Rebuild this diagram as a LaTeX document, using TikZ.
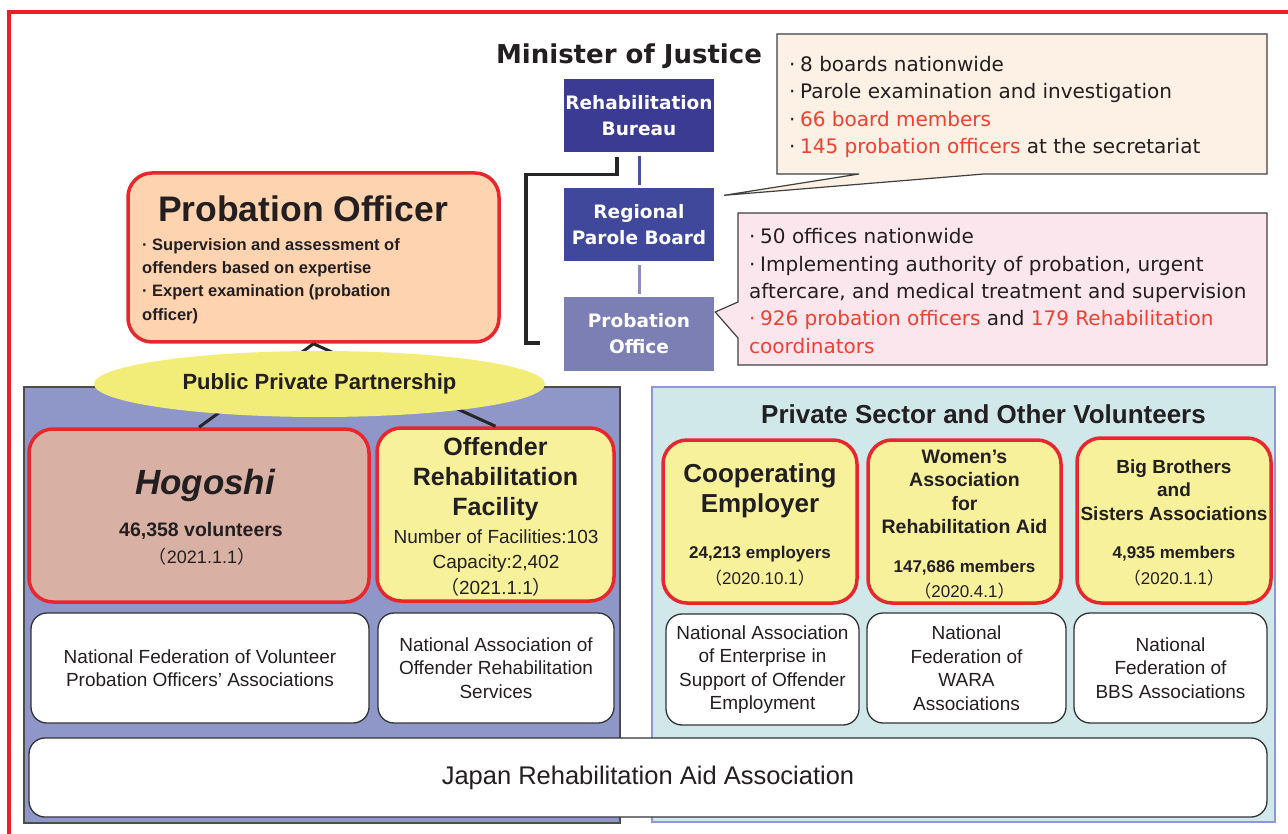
\documentclass[tikz,border=0pt]{standalone}
\usepackage{fontspec}
\setmainfont{Liberation Sans}
\newfontfamily\verdfont{DejaVu Sans}
\newfontfamily\cjkfont{Noto Sans CJK JP}
\usetikzlibrary{calc,shapes.geometric}

\definecolor{framered}{HTML}{EE1C25}
\definecolor{boxred}{HTML}{E8262D}
\definecolor{notered}{HTML}{F0402F}
\definecolor{inktext}{HTML}{231F20}
\definecolor{bureaublue}{HTML}{3B3B93}
\definecolor{boardblue}{HTML}{3F489B}
\definecolor{officeblue}{HTML}{7B7FB3}
\definecolor{linkdark}{HTML}{4B50A5}
\definecolor{linklight}{HTML}{8A8EC3}
\definecolor{boardnote}{HTML}{FDF0E4}
\definecolor{officenote}{HTML}{FCE6EE}
\definecolor{peach}{HTML}{FDD3B0}
\definecolor{pppyellow}{HTML}{F2EC78}
\definecolor{leftpanel}{HTML}{8F97C8}
\definecolor{rightpanel}{HTML}{D0E8EA}
\definecolor{rightedge}{HTML}{8C99D6}
\definecolor{hogoshifill}{HTML}{D9B1A4}
\definecolor{lightyellow}{HTML}{F7F19B}

\newcommand{\fsz}[2]{\fontsize{#1}{#2}\selectfont}
\newcommand{\jdate}[1]{{\cjkfont （}#1{\cjkfont ）}}
\newcommand{\dotb}[1]{\makebox[#1][l]{·}}

\tikzset{
  orgbox/.style={text=white, font=\verdfont\bfseries\fsz{18.5}{26}, align=center, minimum width=150, minimum height=73, inner sep=0},
  orglink/.style={line width=3, shorten <=3, shorten >=3},
  notedraw/.style={draw=black!75, line width=1.2},
  notetext/.style={font=\verdfont\fsz{20}{27.4}, text=inktext, align=left, inner sep=0, anchor=west},
  redbox/.style={draw=boxred, line width=3.5, rounded corners=24, inner sep=0},
  whitebox/.style={draw=black!80, line width=1.3, fill=white, rounded corners=16, align=center, font=\fsz{19}{23.5}, text=inktext, inner sep=0},
  boldtext/.style={font=\bfseries\fsz{#1}{#1}, text=inktext, align=center, inner sep=0},
  plaintext/.style={font=\fsz{#1}{#1}, text=inktext, align=center, inner sep=0},
  tie/.style={line width=3, black!85}
}

\begin{document}
\begin{tikzpicture}[x=1pt,y=-1pt]
  %%%%% START %%%%%
  \useasboundingbox (0,0) rectangle (1288,834);
  \clip (0,0) rectangle (1288,834);

  \draw[framered, line width=3.5] (9,860) -- (9,12) -- (1300,12);

  \node[font=\verdfont\bfseries\fsz{26}{30}, text=inktext, inner sep=0] (minister) at (629,56) {Minister of Justice};

  % ministry chain
  \node[orgbox, fill=bureaublue] (bureau) at (639,116) {Rehabilitation\\Bureau};
  \node[orgbox, fill=boardblue] (rpb) at (639,225) {Regional\\Parole Board};
  \node[orgbox, fill=officeblue] (po) at (639,334) {Probation\\Office};
  \draw[orglink, linkdark] (bureau) -- (rpb);
  \draw[orglink, linklight] (rpb) -- (po);
  \draw[line width=3.2, black!85] ($(bureau.south)+(-22,4.5)$) -- ++(0,17) -- ++(-91,0) |- ($(po.west)+(-24,9)$);

  % callouts
  \coordinate (tipA) at ($(rpb.north east)+(10,7)$);
  \filldraw[notedraw, fill=boardnote] (777,34) -- (1267,34) -- (1267,174) -- (984,174) -- (tipA) -- (859,174) -- (777,174) -- cycle;
  \node[notetext] (boardtxt) at (789,107) {\dotb{11pt}8 boards nationwide\\\dotb{11pt}Parole examination and investigation\\\dotb{11pt}\textcolor{notered}{66 board members}\\\dotb{11pt}\textcolor{notered}{145 probation officers} at the secretariat};

  \coordinate (tipB) at ($(po.east)+(1,-22)$);
  \filldraw[notedraw, fill=officenote] (738,213) -- (1267,213) -- (1267,365) -- (738,365) -- (738,338) -- (tipB) -- (738,302) -- cycle;
  \node[notetext] (officetxt) at (749,291) {\dotb{11pt}50 offices nationwide\\\dotb{11pt}Implementing authority of probation, urgent\\aftercare, and medical treatment and supervision\\\textcolor{notered}{\dotb{11pt}926 probation officers} and \textcolor{notered}{179 Rehabilitation}\\\textcolor{notered}{coordinators}};

  % panels
  \draw[fill=leftpanel, draw=black!70, line width=1.2] (24,387) rectangle (620,823);
  \draw[fill=rightpanel, draw=rightedge, line width=1.2] (652,387) rectangle (1275,822);

  % probation officer
  \node[redbox, fill=peach, minimum width=371, minimum height=169] (pobox) at (313.5,257.5) {};
  \node[boldtext=35.5] (potitle) at (303,209) {Probation Officer};
  \node[boldtext=16.5, align=left, anchor=west, font=\bfseries\fsz{16.5}{23.3}] (potext) at (142,281) {\dotb{10pt}Supervision and assessment of\\offenders based on expertise\\\dotb{10pt}Expert examination (probation\\officer)};

  \node[redbox, fill=hogoshifill, minimum width=340, minimum height=173] (hogoshi) at (199,515.5) {};
  \node[redbox, fill=lightyellow, minimum width=237, minimum height=173] (orf) at (495.5,514.5) {};
  \draw[tie] (pobox.south) -- (hogoshi.north);
  \draw[tie] (pobox.south) -- (orf.north);

  \node[ellipse, fill=pppyellow, minimum width=451, minimum height=66, inner sep=0, font=\bfseries\fsz{22}{26}, text=inktext] (ppp) at (319.5,384) {Public Private Partnership};

  % public side
  \node[font=\bfseries\itshape\fsz{35}{35}, text=inktext, inner sep=0] (hogoshiname) at (205,485) {Hogoshi};
  \node[boldtext=19.5] (hogoshicount) at (201,531) {46,358 volunteers};
  \node[plaintext=18] (hogoshidate) at (202,557) {\jdate{2021.1.1}};

  \node[boldtext=25, font=\bfseries\fsz{25}{30}] (orfname) at (495.5,479) {Offender\\Rehabilitation\\Facility};
  \node[plaintext=19, font=\fsz{19}{25.5}] (orfdata) at (496,563) {Number of Facilities:103\\Capacity:2,402\\\jdate{2021.1.1}};

  \node[whitebox, minimum width=338, minimum height=110] (nfvpoa) at (200,668) {National Federation of Volunteer\\Probation Officers’ Associations};
  \node[whitebox, minimum width=236, minimum height=110] (naors) at (496,668) {National Association of\\Offender Rehabilitation\\Services};

  % private side
  \node[boldtext=26] (privtitle) at (983.5,414) {Private Sector and Other Volunteers};

  \node[redbox, fill=lightyellow, minimum width=194, minimum height=163] (ce) at (760,521.5) {};
  \node[redbox, fill=lightyellow, minimum width=193, minimum height=163] (wara) at (964.5,521.5) {};
  \node[redbox, fill=lightyellow, minimum width=194, minimum height=165] (bbs) at (1174,520.5) {};

  \node[boldtext=26, font=\bfseries\fsz{26}{30.5}] (cename) at (760,491) {Cooperating\\Employer};
  \node[boldtext=17] (cecount) at (760,554) {24,213 employers};
  \node[plaintext=17] (cedate) at (760,578) {\jdate{2020.10.1}};

  \node[boldtext=19.5, font=\bfseries\fsz{19.5}{23.5}] (waraname) at (964.5,492) {Women’s\\Association\\for\\Rehabilitation Aid};
  \node[boldtext=17] (waracount) at (964.5,568) {147,686 members};
  \node[plaintext=17] (waradate) at (964.5,591) {\jdate{2020.4.1}};

  \node[boldtext=19, font=\bfseries\fsz{19}{23.5}] (bbsname) at (1174,490) {Big Brothers\\and\\Sisters Associations};
  \node[boldtext=17] (bbscount) at (1174,554) {4,935 members};
  \node[plaintext=17] (bbsdate) at (1174,578) {\jdate{2020.1.1}};

  \node[whitebox, minimum width=193, minimum height=111] (naesoe) at (762.5,669.5) {National Association\\of Enterprise in\\Support of Offender\\Employment};
  \node[whitebox, minimum width=199, minimum height=110] (nfwara) at (966.5,668) {National\\Federation of\\WARA\\Associations};
  \node[whitebox, minimum width=193, minimum height=110] (nfbbs) at (1170.5,668) {National\\Federation of\\BBS Associations};

  \node[whitebox, minimum width=1238, minimum height=79, font=\fsz{25.5}{30}] (jraa) at (648,777.5) {Japan Rehabilitation Aid Association};
  %%%%% END %%%%%
\end{tikzpicture}
\end{document}
